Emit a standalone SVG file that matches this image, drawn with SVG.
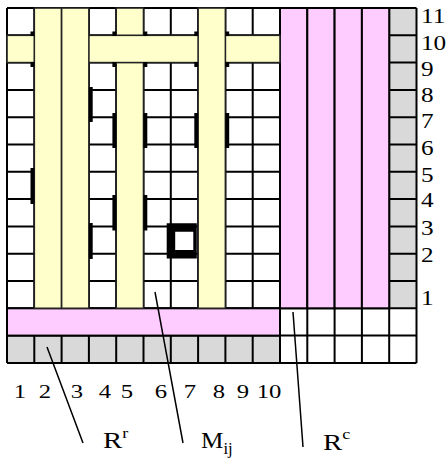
<svg xmlns="http://www.w3.org/2000/svg" width="448" height="459" viewBox="0 0 448 459">
<style>
.grid{stroke:#000;stroke-width:2;fill:none}
.y{fill:#ffffcc;stroke:#222;stroke-width:1.6}
.p{fill:#ffccff;stroke:#000;stroke-width:2}
.g{fill:#d9d9d9}
.k{fill:#000}
.lead{stroke:#000;stroke-width:1.5;fill:none}
</style>
<rect width="448" height="459" fill="#fff"/>
<g id="grid">
<rect class="g" x="389.2" y="8" width="27.3" height="300.3"/>
<rect class="g" x="7" y="335.6" width="273" height="27.3"/>
<path class="grid" d="M7,8V362.9M34.3,8V362.9M61.6,8V362.9M88.9,8V362.9M116.2,8V362.9M143.5,8V362.9M170.8,8V362.9M198.1,8V362.9M225.4,8V362.9M252.7,8V362.9M280,8V362.9M307.3,8V362.9M334.6,8V362.9M361.9,8V362.9M389.2,8V362.9M416.5,8V362.9M7,8H416.5M7,35.3H416.5M7,62.6H416.5M7,89.9H416.5M7,117.2H416.5M7,144.5H416.5M7,171.8H416.5M7,199.1H416.5M7,226.4H416.5M7,253.7H416.5M7,281H416.5M7,308.3H416.5M7,335.6H416.5M7,362.9H416.5"/>
</g>
<g id="Rc">
<rect class="p" x="280" y="8" width="27.3" height="300.3"/>
<rect class="p" x="307.3" y="8" width="27.3" height="300.3"/>
<rect class="p" x="334.6" y="8" width="27.3" height="300.3"/>
<rect class="p" x="361.9" y="8" width="27.3" height="300.3"/>
</g>
<g id="Rr">
<rect class="p" x="7" y="308.3" width="273" height="27.3"/>
</g>
<g id="bars">
<rect class="y" x="116.2" y="8" width="27.3" height="300.3"/>
<rect class="y" x="7" y="35.3" width="273" height="27.3"/>
<rect class="y" x="34.3" y="8" width="27.3" height="300.3"/>
<rect class="y" x="61.6" y="8" width="27.3" height="300.3"/>
<rect class="y" x="198.1" y="8" width="27.3" height="300.3"/>
</g>
<g id="marks">
<rect class="k" x="30.5" y="168" width="3.8" height="36"/>
<rect class="k" x="88.9" y="87" width="3.8" height="35"/>
<rect class="k" x="88.9" y="223" width="3.8" height="36"/>
<rect class="k" x="112.4" y="113" width="3.8" height="35"/>
<rect class="k" x="112.4" y="195" width="3.8" height="35.5"/>
<rect class="k" x="143.5" y="113" width="3.8" height="35"/>
<rect class="k" x="143.5" y="195" width="3.8" height="35.5"/>
<rect class="k" x="194.3" y="113" width="3.8" height="35"/>
<rect class="k" x="225.4" y="113" width="3.8" height="35"/>
<rect class="k" x="30.5" y="31.5" width="3.8" height="4.5"/>
<rect class="k" x="30.5" y="62" width="3.8" height="5"/>
<rect class="k" x="112.4" y="31.5" width="3.8" height="4.5"/>
<rect class="k" x="112.4" y="62" width="3.8" height="5"/>
<rect class="k" x="143.5" y="31.5" width="3.8" height="4.5"/>
<rect class="k" x="143.5" y="62" width="3.8" height="5"/>
<rect class="k" x="194.3" y="31.5" width="3.8" height="4.5"/>
<rect class="k" x="194.3" y="62" width="3.8" height="5"/>
<rect class="k" x="225.4" y="31.5" width="3.8" height="4.5"/>
<rect class="k" x="225.4" y="62" width="3.8" height="5"/>
<path class="k" fill-rule="evenodd" d="M166.7,223.3H196.8V258.5H166.7Z M175.2,231.8V250H193.3V231.8Z"/>
</g>
<g id="connectors">
<path class="lead" d="M47,347L83,443M155,292L183,443M293,312L303,447"/>
</g>
<g id="collabels" font-family="'Liberation Serif','DejaVu Serif',serif" font-size="19" text-anchor="middle" fill="#000">
<text transform="translate(20,398) scale(1.3,1)">1</text>
<text transform="translate(45,398) scale(1.3,1)">2</text>
<text transform="translate(77,398) scale(1.3,1)">3</text>
<text transform="translate(105,398) scale(1.3,1)">4</text>
<text transform="translate(127,398) scale(1.3,1)">5</text>
<text transform="translate(161,398) scale(1.3,1)">6</text>
<text transform="translate(190,398) scale(1.3,1)">7</text>
<text transform="translate(219,398) scale(1.3,1)">8</text>
<text transform="translate(243,398) scale(1.3,1)">9</text>
<text transform="translate(269,398) scale(1.3,1)">10</text>
</g>
<g id="rowlabels" font-family="'Liberation Serif','DejaVu Serif',serif" font-size="21" fill="#000">
<text transform="translate(421,22.7) scale(1.2,1)">11</text>
<text transform="translate(421,50) scale(1.2,1)">10</text>
<text transform="translate(421,76) scale(1.2,1)">9</text>
<text transform="translate(421,101.7) scale(1.2,1)">8</text>
<text transform="translate(421,128) scale(1.2,1)">7</text>
<text transform="translate(421,155) scale(1.2,1)">6</text>
<text transform="translate(421,181.7) scale(1.2,1)">5</text>
<text transform="translate(421,206.7) scale(1.2,1)">4</text>
<text transform="translate(421,235) scale(1.2,1)">3</text>
<text transform="translate(421,261.7) scale(1.2,1)">2</text>
<text transform="translate(421,305) scale(1.2,1)">1</text>
</g>
<g id="names" font-family="'Liberation Serif','DejaVu Serif',serif" font-size="24" fill="#000">
<text transform="translate(103,448) scale(1.2,1)">R<tspan font-size="15" dy="-10">r</tspan></text>
<text transform="translate(201,448) scale(1.05,1)">M<tspan font-size="16" dy="6">ij</tspan></text>
<text transform="translate(323,450) scale(1.2,1)">R<tspan font-size="15" dy="-11">c</tspan></text>
</g>
</svg>
